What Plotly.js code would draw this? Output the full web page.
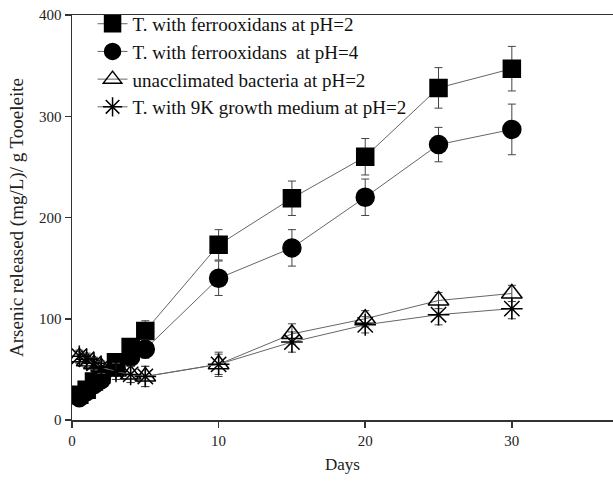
<!DOCTYPE html>
<html>
<head>
<meta charset="utf-8">
<script src="https://cdn.plot.ly/plotly-3.0.1.min.js"></script>
<style>html,body{margin:0;padding:0;background:#fff;}#chart{width:613px;height:481px;}</style>
</head>
<body>
<div id="chart"></div>
<script>
var days = [0.5, 1, 1.5, 2, 3, 4, 5, 10, 15, 20, 25, 30];
var seriesNames = [
  "T. with ferrooxidans at pH=2",
  "T. with ferrooxidans  at pH=4",
  "unacclimated bacteria at pH=2",
  "T. with 9K growth medium at pH=2"
];
var ferroPH2 = [25, 30, 38, 45, 57, 72, 88, 173, 219, 260, 328, 347];
var ferroPH2Err = [4, 4, 5, 5, 6, 7, 10, 15, 17, 18, 20, 22];
var ferroPH4 = [22, 28, 35, 40, 52, 62, 70, 140, 170, 220, 272, 287];
var ferroPH4Err = [3, 4, 4, 5, 6, 7, 9, 17, 18, 18, 17, 25];
var unaccl = [62, 58, 55, 52, 48, 45, 43, 55, 85, 100, 118, 125];
var unacclErr = [6, 6, 6, 6, 8, 8, 10, 10, 10, 8, 8, 8];
var medium9K = [63, 60, 56, 52, 48, 45, 43, 55, 77, 94, 104, 110];
var medium9KErr = [6, 6, 6, 6, 8, 8, 10, 12, 10, 8, 10, 10];
var xTicks = [0, 10, 20, 30];
var yTicks = [0, 100, 200, 300, 400];

var symbols = ["square", "circle", "triangle-up-open", "asterisk-open"];
var values = [ferroPH2, ferroPH4, unaccl, medium9K];
var errs = [ferroPH2Err, ferroPH4Err, unacclErr, medium9KErr];
var sizes = [17, 18, 18, 18];

var traces = values.map(function(v, i) {
  return {
    x: days, y: v, name: seriesNames[i], type: "scatter", mode: "lines+markers",
    line: {color: "#666", width: 1},
    marker: {symbol: symbols[i], size: sizes[i], color: "#000", line: {color: "#000", width: 1.5}},
    error_y: {type: "data", array: errs[i], visible: true, color: "#444", thickness: 1, width: 4}
  };
});

var fontFam = "Liberation Serif, Times New Roman, serif";
var layout = {
  width: 613, height: 481,
  margin: {l: 72, r: 0, t: 15, b: 61},
  paper_bgcolor: "#fff", plot_bgcolor: "#fff",
  font: {family: fontFam, size: 15, color: "#222"},
  showlegend: true,
  legend: {x: 0.038, y: 1.025, xanchor: "left", yanchor: "top", bgcolor: "rgba(0,0,0,0)",
           font: {family: fontFam, size: 19, color: "#111"}, tracegroupgap: 0},
  xaxis: {
    range: [0, 36.9], tickvals: xTicks, ticktext: xTicks.map(String),
    showline: true, linecolor: "#333", linewidth: 1.5, mirror: true,
    ticks: "outside", ticklen: 6, tickwidth: 1.5, tickcolor: "#333",
    showgrid: false, zeroline: false,
    title: {text: "Days", font: {family: fontFam, size: 17, color: "#222"}, standoff: 10}
  },
  yaxis: {
    range: [0, 400], tickvals: yTicks, ticktext: yTicks.map(String),
    showline: true, linecolor: "#333", linewidth: 1.5,
    ticks: "outside", ticklen: 6, tickwidth: 1.5, tickcolor: "#333",
    showgrid: false, zeroline: false,
    title: {text: "Arsenic released (mg/L)/ g Tooeleite", font: {family: fontFam, size: 19, color: "#222"}, standoff: 10}
  }
};
Plotly.newPlot("chart", traces, layout, {displayModeBar: false, staticPlot: true});
</script>
</body>
</html>
